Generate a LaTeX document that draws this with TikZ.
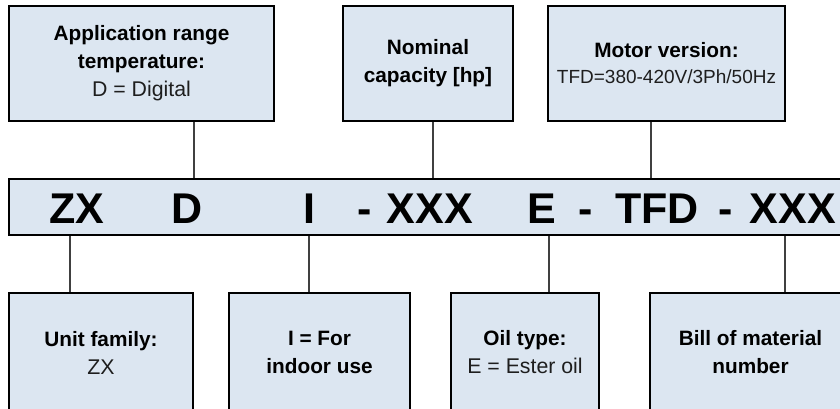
\documentclass[tikz,border=0pt]{standalone}
\usepackage{fontspec}
\setmainfont{Liberation Sans}
\definecolor{boxfill}{HTML}{DCE6F1}
\definecolor{linkcol}{HTML}{404040}
\definecolor{plaintext}{HTML}{1E1E1E}
\tikzset{
  infobox/.style={draw=black, line width=2.2pt, fill=boxfill, rectangle, inner sep=0pt, align=center, anchor=center},
  codebar/.style={draw=black, line width=2.2pt, fill=boxfill, rectangle, inner sep=0pt, anchor=center},
  codetok/.style={font=\fontsize{43}{43}\selectfont\bfseries, anchor=base, inner sep=0pt},
  link/.style={draw=linkcol, line width=1.1pt},
  bt/.style={font=\fontsize{20.8}{28}\selectfont\bfseries},
}
\newcommand{\plainln}[1]{{\fontsize{21.3}{28}\selectfont\mdseries\color{plaintext}#1}}
\begin{document}
\begin{tikzpicture}[x=1pt,y=-1pt]
\useasboundingbox (0,0) rectangle (840,408);
% top boxes
\node[infobox, minimum width=265pt, minimum height=115pt, bt] (app) at (141.5,63.5)
  {Application range\\temperature:\\\plainln{D = Digital}};
\node[infobox, minimum width=170pt, minimum height=115pt, bt] (nom) at (428,63.5)
  {Nominal\\capacity [hp]};
\node[infobox, minimum width=237pt, minimum height=115pt, font=\fontsize{20.8}{26}\selectfont\bfseries] (mot) at (666.5,63.5)
  {Motor version:\\{\fontsize{19}{26}\selectfont\mdseries\color{plaintext}TFD=380-420V/3Ph/50Hz}};
% code bar
\node[codebar, minimum width=842pt, minimum height=56pt] (bar) at (430,207) {};
\node[codetok] (tzx) at (77,223) {ZX};
\node[codetok] (td) at (187,223) {D};
\node[codetok] (ti) at (309,223) {I};
\node[codetok] (dash1) at (365,223) {-};
\node[codetok] (txa) at (430,223) {XXX};
\node[codetok] (te) at (542,223) {E};
\node[codetok] (dash2) at (586,223) {-};
\node[codetok] (ttfd) at (657,223) {TFD};
\node[codetok] (dash3) at (726,223) {-};
\node[codetok] (txb) at (793,223) {XXX};
% bottom boxes
\node[infobox, minimum width=184pt, minimum height=119pt, bt] (fam) at (101,352.5)
  {Unit family:\\\plainln{ZX}};
\node[infobox, minimum width=181pt, minimum height=119pt, bt] (ind) at (319.5,352.5)
  {I = For\\indoor use};
\node[infobox, minimum width=148pt, minimum height=119pt, bt] (oil) at (525,352.5)
  {Oil type:\\\plainln{E = Ester oil}};
\node[infobox, minimum width=201pt, minimum height=119pt, bt] (bom) at (750.5,352.5)
  {Bill of material\\number};
% connector anchor points
\coordinate (ca) at (194,0);
\coordinate (cb) at (433,0);
\coordinate (cc) at (651,0);
\coordinate (cd) at (70,0);
\coordinate (ce) at (309,0);
\coordinate (cf) at (549,0);
\coordinate (cg) at (785,0);
% connectors
\draw[link] (ca |- app.south) -- (ca |- bar.north);
\draw[link] (cb |- nom.south) -- (cb |- bar.north);
\draw[link] (cc |- mot.south) -- (cc |- bar.north);
\draw[link] (cd |- bar.south) -- (cd |- fam.north);
\draw[link] (ce |- bar.south) -- (ce |- ind.north);
\draw[link] (cf |- bar.south) -- (cf |- oil.north);
\draw[link] (cg |- bar.south) -- (cg |- bom.north);
\end{tikzpicture}
\end{document}
